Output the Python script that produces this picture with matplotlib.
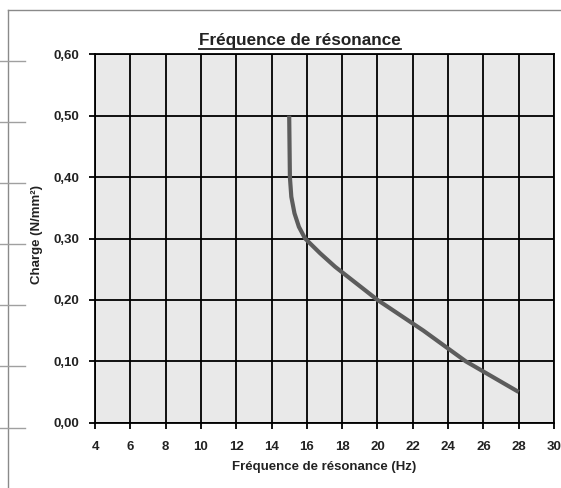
import matplotlib
matplotlib.use('Agg')
import matplotlib.pyplot as plt
from matplotlib.lines import Line2D
from matplotlib.ticker import FuncFormatter

# values (Hz, N/mm2)
freq_hz = [15.0, 15.02, 15.04, 15.12, 15.3, 15.55, 15.9, 16.75, 17.6, 20.0, 22.6, 25.0, 28.0]
charge = [0.50, 0.45, 0.40, 0.368, 0.341, 0.319, 0.30, 0.276, 0.254, 0.20, 0.15, 0.10, 0.05]

x_ticks = list(range(4, 31, 2))
y_ticks = [0.0, 0.1, 0.2, 0.3, 0.4, 0.5, 0.6]

C_CURVE = '#5c5c5c'
C_PLOT_BG = '#e9e9e9'
C_TEXT = '#222222'
C_FRAME = '#8a8a8a'

plt.rcParams['font.family'] = ['Liberation Sans', 'DejaVu Sans']

W, H = 561, 488
fig = plt.figure(figsize=(W / 100, H / 100), dpi=100)
fig.patch.set_facecolor('white')

ax = fig.add_axes([95 / W, 1 - 422.7 / H, (554 - 95) / W, (422.7 - 54.3) / H])
ax.set_facecolor(C_PLOT_BG)
ax.plot(freq_hz, charge, color=C_CURVE, linewidth=3.0, solid_capstyle='butt',
        solid_joinstyle='round', zorder=3)

ax.set_xlim(4, 30)
ax.set_ylim(0, 0.6)
ax.set_xticks(x_ticks)
ax.set_yticks(y_ticks)
ax.yaxis.set_major_formatter(FuncFormatter(lambda v, _: f'{v:.2f}'.replace('.', ',')))
ax.grid(True, color='black', linewidth=1.3, zorder=1)
ax.set_axisbelow(True)
for s in ax.spines.values():
    s.set_color('black')
    s.set_linewidth(1.3)
ax.tick_params(direction='out', length=4, width=1.3, color='black',
               labelsize=9.5, labelcolor=C_TEXT)
ax.tick_params(axis='x', pad=9)
ax.tick_params(axis='y', pad=7)
for lab in ax.get_xticklabels() + ax.get_yticklabels():
    lab.set_fontweight('bold')

# axis labels placed where they sit in the scan
fig.text((95 + 554) / 2 / W, 1 - 467 / H, 'Fréquence de résonance (Hz)', ha='center',
         va='center', fontsize=9.5, fontweight='bold', color=C_TEXT)
fig.text(37 / W, 1 - 235 / H, 'Charge (N/mm²)', rotation=90, ha='center',
         va='center', fontsize=9.5, fontweight='bold', color=C_TEXT)

# underlined title, slightly left of the plot centre as in the scan
title = fig.text(300 / W, 1 - 41 / H, 'Fréquence de résonance', ha='center',
                 va='center', fontsize=12.3, fontweight='bold', color=C_TEXT)
fig.canvas.draw()
bb = title.get_window_extent().transformed(fig.transFigure.inverted())
fig.add_artist(Line2D([bb.x0, bb.x1], [bb.y0 - 0.001, bb.y0 - 0.001],
                      transform=fig.transFigure, color=C_TEXT, linewidth=1.3))

# outer chart frame (left + top edges visible in the scan) and stray ticks
fig.add_artist(Line2D([8 / W, 8 / W], [0, 1 - 10 / H], transform=fig.transFigure,
                      color=C_FRAME, linewidth=1.0))
fig.add_artist(Line2D([8 / W, 1], [1 - 10 / H, 1 - 10 / H], transform=fig.transFigure,
                      color=C_FRAME, linewidth=1.0))
for py in [61, 122, 183, 244, 305, 366, 428]:
    fig.add_artist(Line2D([0, 25 / W], [1 - py / H, 1 - py / H],
                          transform=fig.transFigure, color='#a0a0a0', linewidth=1.0))

fig.savefig('out.png', dpi=100)
